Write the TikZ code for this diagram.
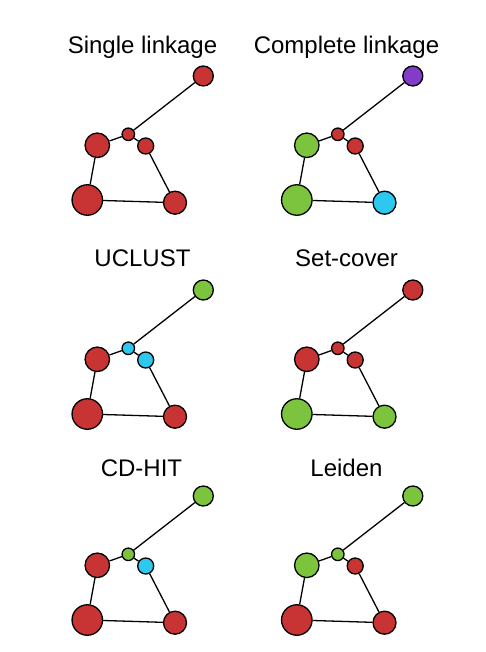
\documentclass[tikz,border=0pt]{standalone}
\usepackage{fontspec}
\setmainfont{Liberation Sans}
\definecolor{cred}{RGB}{200,52,52}
\definecolor{cgreen}{RGB}{125,196,62}
\definecolor{ccyan}{RGB}{45,200,240}
\definecolor{cpurple}{RGB}{130,60,200}
\tikzset{
  vtx/.style={circle, draw=black, line width=1.3pt, inner sep=0pt},
  vT/.style={vtx, minimum size=20pt},
  vS/.style={vtx, minimum size=12.5pt},
  vM/.style={vtx, minimum size=16pt},
  vL/.style={vtx, minimum size=24.5pt},
  vBL/.style={vtx, minimum size=30.5pt},
  vBR/.style={vtx, minimum size=23pt},
  edge/.style={line width=1.3pt, black},
  ttl/.style={anchor=base, inner sep=0pt, font=\fontsize{24}{28}\selectfont}
}
% #1 prefix, #2 x shift, #3 y shift, #4-#8 colours of T,S,M,L,BL, #9 colour of BR
\newcommand{\clusterpanel}[9]{%
  \begin{scope}[shift={(#2,#3)}]
    \node[vT, fill=#4]  (#1T)  at (203.3,76) {};
    \node[vS, fill=#5]  (#1S)  at (128.3,134.3) {};
    \node[vM, fill=#6]  (#1M)  at (145.7,146) {};
    \node[vL, fill=#7]  (#1L)  at (97.3,145.3) {};
    \node[vBL, fill=#8] (#1BL) at (87.3,200) {};
    \node[vBR, fill=#9] (#1BR) at (175,202.7) {};
    \draw[edge] (#1T) -- (#1S);
    \draw[edge] (#1S) -- (#1L);
    \draw[edge] (#1S) -- (#1M);
    \draw[edge] (#1M) -- (#1BR);
    \draw[edge] (#1L) -- (#1BL);
    \draw[edge] (#1BL) -- (#1BR);
  \end{scope}}
\begin{document}
\begin{tikzpicture}[x=1pt, y=-1pt]
  \useasboundingbox (0,0) rectangle (486,652);
  \fill[white] (0,0) rectangle (486,652);
  \node[ttl] (t1) at (142.5,53.5) {Single linkage};
  \node[ttl] (t2) at (346.5,53.5) {Complete linkage};
  \node[ttl] (t3) at (142.5,266) {UCLUST};
  \node[ttl] (t4) at (346.5,266) {Set-cover};
  \node[ttl] (t5) at (141.5,476) {CD-HIT};
  \node[ttl] (t6) at (346.5,476) {Leiden};
  \clusterpanel{a}{0}{0}{cred}{cred}{cred}{cred}{cred}{cred}
  \clusterpanel{b}{209.5}{0}{cpurple}{cred}{cred}{cgreen}{cgreen}{ccyan}
  \clusterpanel{c}{0}{214}{cgreen}{ccyan}{ccyan}{cred}{cred}{cred}
  \clusterpanel{d}{209.5}{214}{cred}{cred}{cred}{cred}{cgreen}{cgreen}
  \clusterpanel{e}{0}{420}{cgreen}{cgreen}{ccyan}{cred}{cred}{cred}
  \clusterpanel{f}{209.5}{420}{cgreen}{cgreen}{cred}{cgreen}{cred}{cred}
\end{tikzpicture}
\end{document}
